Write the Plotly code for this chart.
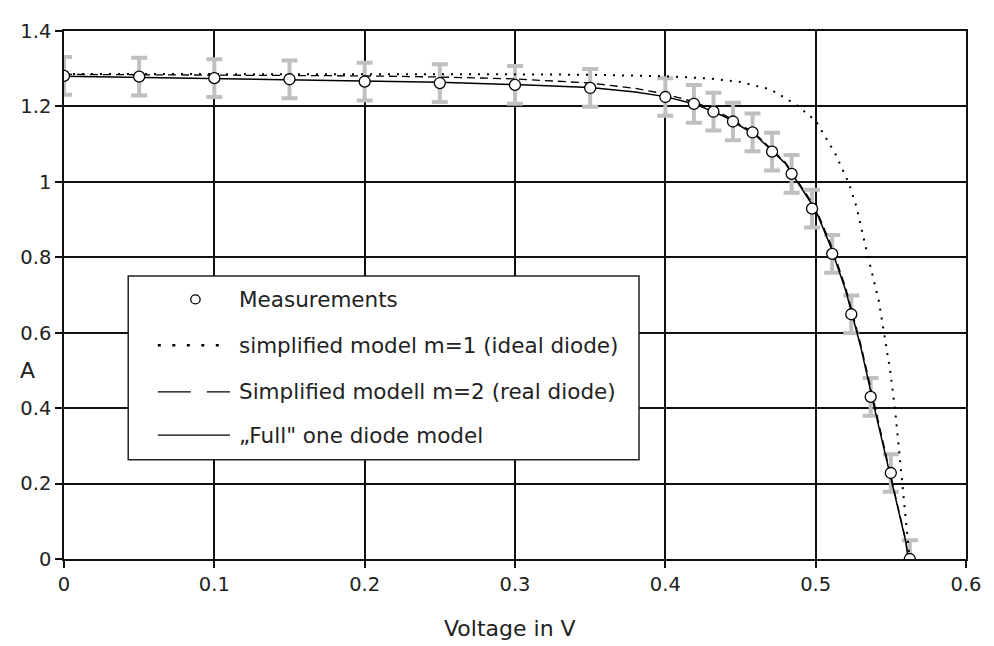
import plotly.graph_objects as go

# ---- data ----
meas_v = [0.0, 0.05, 0.10, 0.15, 0.20, 0.25, 0.30, 0.35, 0.40, 0.419, 0.432, 0.445,
          0.458, 0.471, 0.484, 0.4976, 0.511, 0.5237, 0.5366, 0.550, 0.5626]
meas_i = [1.281, 1.279, 1.275, 1.272, 1.266, 1.262, 1.257, 1.249, 1.225, 1.207, 1.186, 1.160,
          1.131, 1.080, 1.021, 0.929, 0.809, 0.649, 0.430, 0.228, 0.0]
meas_err = [0.05] * len(meas_v)

model_v = [0.0, 0.05, 0.10, 0.15, 0.20, 0.25, 0.30, 0.35, 0.38, 0.40, 0.42, 0.44, 0.46,
           0.48, 0.50, 0.51, 0.52, 0.53, 0.54, 0.55, 0.56, 0.5615]
full_i = [1.280, 1.277, 1.274, 1.271, 1.267, 1.264, 1.258, 1.250, 1.238, 1.226, 1.206, 1.172,
          1.124, 1.048, 0.925, 0.828, 0.712, 0.562, 0.385, 0.215, 0.045, 0.0]
m2_i = [1.285, 1.284, 1.283, 1.282, 1.281, 1.278, 1.273, 1.262, 1.248, 1.233, 1.211, 1.176,
        1.127, 1.051, 0.930, 0.835, 0.719, 0.569, 0.392, 0.220, 0.048, 0.0]

m1_v = [0.0, 0.10, 0.20, 0.30, 0.35, 0.40, 0.43, 0.45, 0.47, 0.487, 0.50, 0.513, 0.522,
        0.527, 0.533, 0.5375, 0.542, 0.5495, 0.5528, 0.556, 0.5594, 0.5625]
m1_i = [1.286, 1.286, 1.286, 1.285, 1.284, 1.280, 1.274, 1.265, 1.245, 1.205, 1.162, 1.075, 0.997,
        0.936, 0.832, 0.762, 0.684, 0.501, 0.397, 0.267, 0.119, 0.0]

legend_labels = ["Measurements", "simplified model m=1 (ideal diode)",
                 "Simplified modell m=2 (real diode)", "\u201eFull\" one diode model"]

x_ticks = [0, 0.1, 0.2, 0.3, 0.4, 0.5, 0.6]
y_ticks = [0, 0.2, 0.4, 0.6, 0.8, 1.0, 1.2, 1.4]

FONT = "DejaVu Sans"
FS_TICK = 19.5
FS_LEG = 21.5
FS_TITLE = 22

fig = go.Figure()

# gray error bars (behind lines)
fig.add_trace(go.Scatter(
    x=meas_v, y=meas_i, mode="markers",
    marker=dict(size=1, opacity=0),
    error_y=dict(type="data", array=meas_err, color="#c0c0c0", thickness=4, width=8),
    showlegend=False, hoverinfo="skip"))

fig.add_trace(go.Scatter(x=m1_v, y=m1_i, mode="lines",
                         line=dict(color="black", width=2, dash="2px,7px"),
                         name=legend_labels[1], showlegend=False))
fig.add_trace(go.Scatter(x=model_v, y=m2_i, mode="lines",
                         line=dict(color="black", width=1.3, dash="8px,5px"),
                         name=legend_labels[2], showlegend=False))
fig.add_trace(go.Scatter(x=model_v, y=full_i, mode="lines",
                         line=dict(color="black", width=1.5),
                         name=legend_labels[3], showlegend=False))
fig.add_trace(go.Scatter(x=meas_v, y=meas_i, mode="markers",
                         marker=dict(symbol="circle", size=11, color="white",
                                     line=dict(color="black", width=1.3)),
                         name=legend_labels[0], showlegend=False))

# ---- manual legend (paper coordinates) ----
bx0, bx1, by0, by1 = 0.0712, 0.6375, 0.188, 0.536
fig.add_shape(type="rect", xref="paper", yref="paper", x0=bx0, x1=bx1, y0=by0, y1=by1,
              line=dict(color="#222", width=1.5), fillcolor="white", layer="above")
ys = [0.4916, 0.4047, 0.3166, 0.2346]
lx0, lx1, tx = 0.104, 0.184, 0.1917
fig.add_shape(type="circle", xref="paper", yref="paper",
              x0=0.1457 - 0.0052, x1=0.1457 + 0.0052, y0=ys[0] - 0.0085, y1=ys[0] + 0.0085,
              line=dict(color="black", width=1.3), fillcolor="white", layer="above")
fig.add_shape(type="line", xref="paper", yref="paper", x0=lx0, x1=lx1, y0=ys[1], y1=ys[1],
              line=dict(color="black", width=2.5, dash="3px,11.5px"), layer="above")
fig.add_shape(type="line", xref="paper", yref="paper", x0=lx0, x1=lx1, y0=ys[2], y1=ys[2],
              line=dict(color="black", width=1.3, dash="33px,16px"), layer="above")
fig.add_shape(type="line", xref="paper", yref="paper", x0=lx0, x1=lx1, y0=ys[3], y1=ys[3],
              line=dict(color="black", width=1.3), layer="above")
for lab, yy in zip(legend_labels, ys):
    fig.add_annotation(text=lab, xref="paper", yref="paper", x=tx, y=yy,
                       xanchor="left", yanchor="middle", showarrow=False,
                       font=dict(family=FONT, size=FS_LEG, color="#222"))

# axis titles
fig.add_annotation(text="A", xref="paper", yref="y", x=-0.041, y=0.5,
                   xanchor="center", yanchor="middle", showarrow=False,
                   font=dict(family=FONT, size=FS_TITLE, color="#222"))
fig.add_annotation(text="Voltage in V", xref="paper", yref="paper", x=0.494, y=-0.1322,
                   xanchor="center", yanchor="middle", showarrow=False,
                   font=dict(family=FONT, size=FS_TITLE, color="#222"))

axis_common = dict(showgrid=True, gridcolor="#111", gridwidth=1.5,
                   showline=True, linecolor="#111", linewidth=1.5, mirror=True,
                   ticks="outside", ticklen=7, tickwidth=1.5, tickcolor="#111",
                   zeroline=False, tickfont=dict(family=FONT, size=FS_TICK, color="#222"))

fig.update_xaxes(range=[0, 0.6], tickvals=x_ticks,
                 ticktext=[("%g" % v) for v in x_ticks], **axis_common)
fig.update_yaxes(range=[0, 1.4], tickvals=y_ticks,
                 ticktext=[("%g" % v) for v in y_ticks], **axis_common)

# page has an 8px body margin: size the figure so it fits the 994x646 window
fig.update_layout(width=986, height=638, margin=dict(l=54, r=19, t=14, b=87),
                  plot_bgcolor="white", paper_bgcolor="white",
                  font=dict(family=FONT, size=FS_TICK, color="#222"))

fig.write_html("out.html")
